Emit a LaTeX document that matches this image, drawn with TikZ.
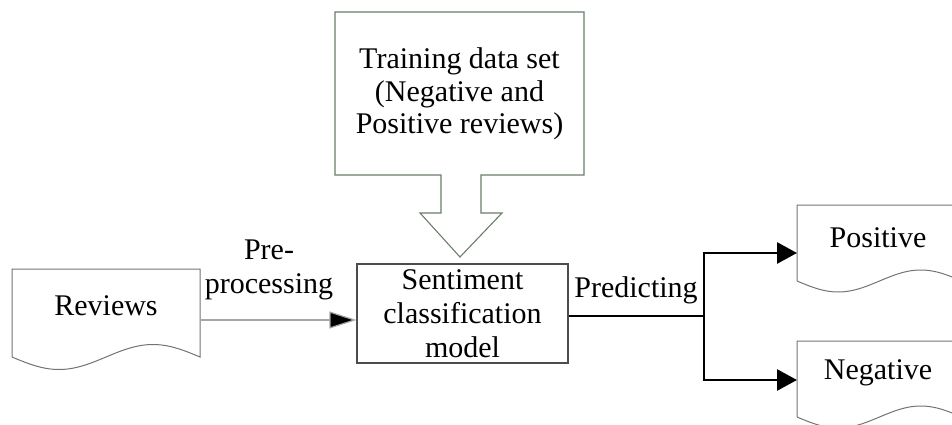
\documentclass[tikz,border=0pt]{standalone}
\usepackage{fontspec}
\setmainfont{Liberation Serif}
\usetikzlibrary{arrows.meta}
\newcommand{\mydoc}[5]{% x0, top, width, bottom, amplitude
  \draw[docline] (#1,#4) -- (#1,#2) -- ({#1+#3},#2) -- ({#1+#3},#4)
    -- plot[domain={#1+#3}:#1, samples=80, smooth] (\x,{#4+#5*sin(((\x-#1)/#3)*360)});
}
\begin{document}
\begin{tikzpicture}[x=1pt,y=-1pt,
  txt/.style={font=\fontsize{30}{34}\selectfont, align=center, inner sep=0pt, text=black},
  docline/.style={draw=black!55, line width=1pt},
  boxline/.style={draw=black!70, line width=1.1pt},
  trainline/.style={draw={rgb,255:red,105;green,125;blue,105}, line width=1.1pt},
  thinarrow/.style={draw=black!35, line width=1.2pt, -{Triangle[length=27pt,width=17pt,fill=black]}},
  predline/.style={draw=black, line width=2.8pt},
  predarrow/.style={predline, -{Triangle[length=20pt,width=21pt]}}]
\useasboundingbox (0,0) rectangle (952,425);
\clip (0,0) rectangle (952,425);

% documents
\mydoc{12}{269}{188}{357}{12.5}
\mydoc{797}{205}{165}{281}{11}
\mydoc{797}{341}{165}{417}{11}

\node[txt] (reviews) at (106,306) {Reviews};
\node[txt] (positive) at (878,238) {Positive};
\node[txt] (negative) at (878,373) {Negative};

% model
\node[txt, boxline, minimum width=211pt, minimum height=99pt] (model) at (462.5,313.5)
  {Sentiment\\classification\\model};

% training data set with block arrow
\draw[trainline] (441,175) -- (335,175) -- (335,12) -- (584,12) -- (584,175) -- (481,175)
  -- (481,213) -- (502,213) -- (460,257) -- (420,213) -- (441,213) -- cycle;
\node[txt, font=\fontsize{30}{32.5}\selectfont] (train) at (459.5,94)
  {Training data set\\(Negative and\\Positive reviews)};

% pre-processing
\coordinate (revout) at (200,320);
\draw[thinarrow] (revout) -- (model.west |- revout);
\node[txt] (prelabel) at (269,269.5) {Pre-\\processing};

% predicting
\coordinate (split) at (704,316);
\coordinate (posin) at (797,253);
\coordinate (negin) at (797,380);
\draw[predline] (model.east |- split) -- (split);
\draw[predarrow] (split) |- (posin);
\draw[predarrow] (split) |- (negin);
\node[txt] (predlabel) at (636,290) {Predicting};
\end{tikzpicture}
\end{document}
